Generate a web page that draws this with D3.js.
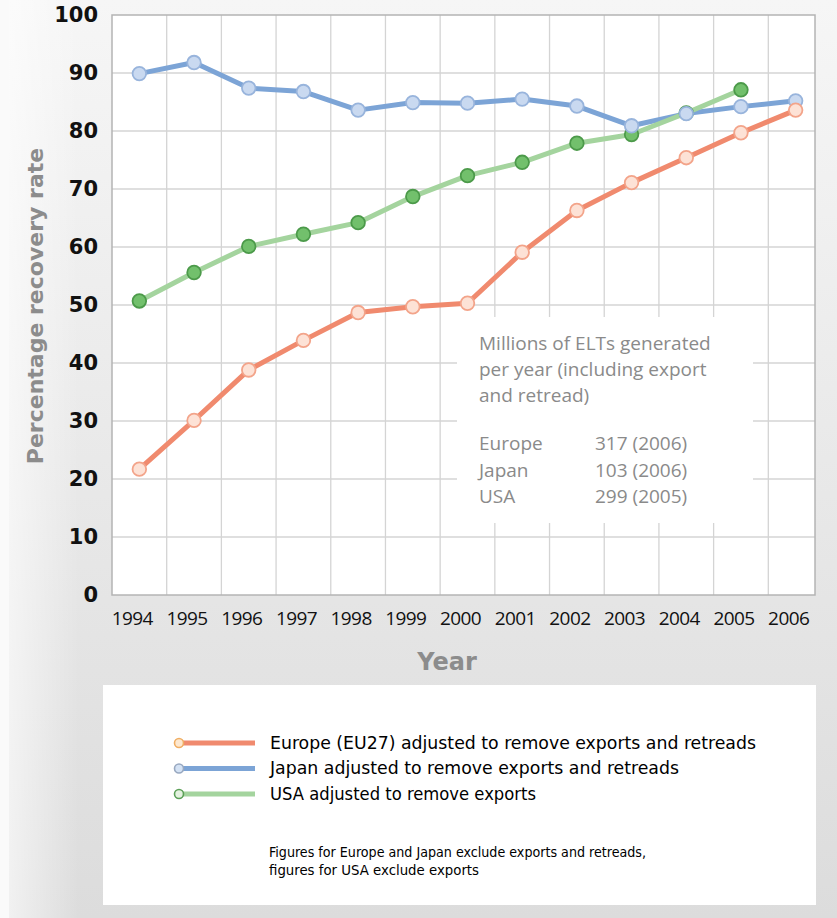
<!DOCTYPE html>
<html>
<head>
<meta charset="utf-8">
<script src="https://cdn.jsdelivr.net/npm/d3@7"></script>
<style>
  body { margin: 0; background: #fff; }
  svg { display: block; }
</style>
</head>
<body>
<div id="chart"></div>
<script>
const FRAME_WIDTH = 837;
const FRAME_HEIGHT = 918;

const PLOT = {left: 112, right: 815, top: 15, bottom: 595};

// data
const years = ["1994","1995","1996","1997","1998","1999","2000","2001","2002","2003","2004","2005","2006"];
const europe = [21.7, 30.1, 38.8, 43.9, 48.7, 49.7, 50.3, 59.1, 66.3, 71.1, 75.4, 79.7, 83.6];
const japan  = [89.9, 91.8, 87.4, 86.8, 83.6, 84.9, 84.8, 85.5, 84.3, 80.9, 83.0, 84.2, 85.2];
const usa    = [50.7, 55.6, 60.1, 62.2, 64.2, 68.7, 72.3, 74.6, 77.9, 79.4, 83.1, 87.1];
const yTicks = [0, 10, 20, 30, 40, 50, 60, 70, 80, 90, 100];

const legendLabels = [
  "Europe (EU27) adjusted to remove exports and retreads",
  "Japan adjusted to remove exports and retreads",
  "USA adjusted to remove exports"
];
const infoLines = ["Millions of ELTs generated", "per year (including export", "and retread)"];
const infoRegions = ["Europe", "Japan", "USA"];
const infoValues = ["317 (2006)", "103 (2006)", "299 (2005)"];
const noteLines = ["Figures for Europe and Japan exclude exports and retreads,", "figures for USA exclude exports"];

const svg = d3.select("#chart")
  .append("svg")
  .attr("width", FRAME_WIDTH)
  .attr("height", FRAME_HEIGHT);

const defs = svg.append("defs");
const bg = defs.append("linearGradient").attr("id", "bg")
  .attr("x1", 0).attr("y1", 0).attr("x2", 0).attr("y2", 1);
bg.append("stop").attr("offset", "0%").attr("stop-color", "#f6f6f6");
bg.append("stop").attr("offset", "100%").attr("stop-color", "#dcdcdc");
const bgSide = defs.append("linearGradient").attr("id", "bgside")
  .attr("x1", 0).attr("y1", 0).attr("x2", 1).attr("y2", 0);
bgSide.append("stop").attr("offset", "0%").attr("stop-color", "#ffffff").attr("stop-opacity", 0.6);
bgSide.append("stop").attr("offset", "100%").attr("stop-color", "#ffffff").attr("stop-opacity", 0);

defs.append("clipPath").attr("id", "plotclip")
  .append("rect")
  .attr("x", PLOT.left).attr("y", PLOT.top - 10)
  .attr("width", PLOT.right - PLOT.left).attr("height", PLOT.bottom - PLOT.top + 10);

svg.append("rect").attr("width", FRAME_WIDTH).attr("height", FRAME_HEIGHT).attr("fill", "#fafafa");
svg.append("rect").attr("x", 9).attr("width", FRAME_WIDTH - 9).attr("height", FRAME_HEIGHT).attr("fill", "url(#bg)");
svg.append("rect").attr("x", 9).attr("width", 70).attr("height", FRAME_HEIGHT).attr("fill", "url(#bgside)");

// scales
const X_SCALE = d3.scaleBand().domain(years).range([PLOT.left, 823]);
const Y_SCALE = d3.scaleLinear().domain([0, 100]).range([PLOT.bottom, PLOT.top]);
const cx = (d, i) => X_SCALE(years[i]) + X_SCALE.bandwidth() / 2;

// plot area
svg.append("rect")
  .attr("x", PLOT.left).attr("y", PLOT.top)
  .attr("width", PLOT.right - PLOT.left).attr("height", PLOT.bottom - PLOT.top)
  .attr("fill", "#fff");

const grid = svg.append("g").attr("clip-path", "url(#plotclip)");
grid.selectAll("line.h")
  .data(yTicks.slice(1, -1))
  .enter().append("line")
  .attr("x1", PLOT.left).attr("x2", PLOT.right)
  .attr("y1", d => Y_SCALE(d)).attr("y2", d => Y_SCALE(d))
  .attr("stroke", "#d4d4d4").attr("stroke-width", 1.3);
grid.selectAll("line.v")
  .data(years.slice(1))
  .enter().append("line")
  .attr("x1", d => X_SCALE(d)).attr("x2", d => X_SCALE(d))
  .attr("y1", PLOT.top).attr("y2", PLOT.bottom)
  .attr("stroke", "#d4d4d4").attr("stroke-width", 1.3);

svg.append("rect")
  .attr("x", PLOT.left).attr("y", PLOT.top)
  .attr("width", PLOT.right - PLOT.left).attr("height", PLOT.bottom - PLOT.top)
  .attr("fill", "none").attr("stroke", "#b4b4b4").attr("stroke-width", 1.5);

// white panel behind the info text
svg.append("rect")
  .attr("x", 457).attr("y", 317).attr("width", 296).attr("height", 206)
  .attr("fill", "#fff");

// axes
svg.append("g")
  .attr("transform", "translate(98,0)")
  .call(d3.axisLeft(Y_SCALE).tickValues(yTicks).tickSize(0).tickPadding(0))
  .call(g => g.select(".domain").remove())
  .selectAll("text")
  .attr("font-family", "'DejaVu Sans', sans-serif")
  .attr("font-weight", "bold")
  .attr("font-size", "21px")
  .attr("fill", "#111");

svg.append("g")
  .attr("transform", "translate(-7," + PLOT.bottom + ")")
  .call(d3.axisBottom(X_SCALE).tickSize(0).tickPadding(17))
  .call(g => g.select(".domain").remove())
  .selectAll("text")
  .attr("font-family", "'Open Sans', sans-serif")
  .attr("font-size", "19px")
  .attr("font-weight", 500)
  .attr("letter-spacing", "-0.6px")
  .attr("fill", "#111");

svg.append("text")
  .attr("x", 447).attr("y", 670)
  .attr("text-anchor", "middle")
  .attr("font-family", "'DejaVu Sans', sans-serif")
  .attr("font-weight", "bold")
  .attr("font-size", "24px")
  .attr("fill", "#8c8c8c")
  .text("Year");

svg.append("text")
  .attr("transform", "translate(43,306) rotate(-90)")
  .attr("text-anchor", "middle")
  .attr("font-family", "'DejaVu Sans', sans-serif")
  .attr("font-weight", "bold")
  .attr("font-size", "22px")
  .attr("fill", "#8c8c8c")
  .text("Percentage recovery rate");

// series: lines first (Japan -> USA -> Europe), then markers
const series = [
  {name: "japan", values: japan, line: "#7ca4d6", fill: "#c9d9f0", stroke: "#98b4dc"},
  {name: "usa", values: usa, line: "#a4d49e", fill: "#72c06c", stroke: "#4c9a4a"},
  {name: "europe", values: europe, line: "#f08a6e", fill: "#fde2d6", stroke: "#f3a48a"}
];

const line = d3.line().x(cx).y(d => Y_SCALE(d));

series.forEach(s => {
  svg.append("path")
    .datum(s.values)
    .attr("d", line)
    .attr("fill", "none")
    .attr("stroke", s.line)
    .attr("stroke-width", 5)
    .attr("stroke-linejoin", "round");
});

[series[1], series[0], series[2]].forEach(s => {
  svg.selectAll("circle." + s.name)
    .data(s.values)
    .enter().append("circle")
    .attr("class", s.name)
    .attr("cx", cx)
    .attr("cy", d => Y_SCALE(d))
    .attr("r", 6.8)
    .attr("fill", s.fill)
    .attr("stroke", s.stroke)
    .attr("stroke-width", 1.8);
});

// info text inside the plot
const info = svg.append("g")
  .attr("font-family", "'Open Sans', sans-serif")
  .attr("font-size", "19px")
  .attr("fill", "#8a8a8a");
info.selectAll("text.head")
  .data(infoLines)
  .enter().append("text")
  .attr("x", 479).attr("y", (d, i) => 350 + i * 26)
  .text(d => d);
info.selectAll("text.reg")
  .data(infoRegions)
  .enter().append("text")
  .attr("x", 479).attr("y", (d, i) => 450 + i * 26.5)
  .text(d => d);
info.selectAll("text.val")
  .data(infoValues)
  .enter().append("text")
  .attr("x", 595).attr("y", (d, i) => 450 + i * 26.5)
  .text(d => d);

// legend box
svg.append("rect")
  .attr("x", 103).attr("y", 685).attr("width", 713).attr("height", 220)
  .attr("fill", "#fff");

const legendColors = [
  {line: "#f08a6e", ring: "#f0ae64", fill: "#fde8d0"},
  {line: "#7ca4d6", ring: "#98a8c0", fill: "#d4e2f4"},
  {line: "#a4d49e", ring: "#5ca058", fill: "#e4f2e0"}
];

const legend = svg.selectAll("g.leg")
  .data(legendLabels)
  .enter().append("g")
  .attr("transform", (d, i) => "translate(0," + (743 + i * 25.5) + ")");
legend.append("line")
  .attr("x1", 180).attr("x2", 255)
  .attr("stroke", (d, i) => legendColors[i].line)
  .attr("stroke-width", 5);
legend.append("circle")
  .attr("cx", 179).attr("r", 4.5)
  .attr("fill", (d, i) => legendColors[i].fill)
  .attr("stroke", (d, i) => legendColors[i].ring)
  .attr("stroke-width", 1.6);
legend.append("text")
  .attr("x", 270).attr("dy", "0.35em")
  .attr("font-family", "'Liberation Sans Narrow', 'DejaVu Sans Condensed', sans-serif")
  .attr("font-size", "17px")
  .attr("fill", "#000")
  .attr("textLength", (d, i) => [486, 409, 266][i])
  .attr("lengthAdjust", "spacingAndGlyphs")
  .text(d => d);

svg.selectAll("text.note")
  .data(noteLines)
  .enter().append("text")
  .attr("x", 269).attr("y", (d, i) => 857 + i * 18)
  .attr("font-family", "'Liberation Sans Narrow', 'DejaVu Sans Condensed', sans-serif")
  .attr("font-size", "14.5px")
  .attr("fill", "#000")
  .attr("textLength", (d, i) => [377, 210][i])
  .attr("lengthAdjust", "spacingAndGlyphs")
  .text(d => d);
</script>
</body>
</html>
